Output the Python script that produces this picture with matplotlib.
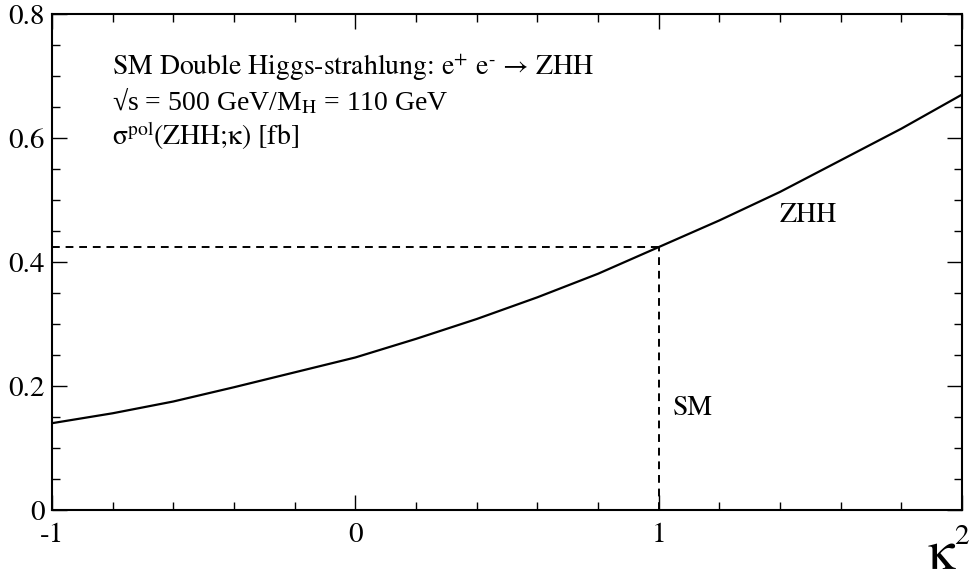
import matplotlib
matplotlib.use("Agg")
import matplotlib.pyplot as plt
from matplotlib.ticker import MultipleLocator

plt.rcParams['font.family'] = ['STIXGeneral', 'Liberation Serif', 'DejaVu Serif']
plt.rcParams['mathtext.fontset'] = 'stix'

kappa = [-1.0, -0.8, -0.6, -0.4, -0.2, 0.0, 0.2, 0.4, 0.6, 0.8, 1.0, 1.2, 1.4, 1.6, 1.8, 2.0]
sigma = [0.140, 0.156, 0.175, 0.198, 0.222, 0.246, 0.276, 0.308, 0.343, 0.381, 0.424, 0.467, 0.513, 0.564, 0.615, 0.670]
sm_kappa = 1.0
sm_sigma = 0.424
xticks = [-1, 0, 1, 2]
xtick_labels = ['-1', '0', '1', '']
yticks = [0, 0.2, 0.4, 0.6, 0.8]
ytick_labels = ['0', '0.2', '0.4', '0.6', '0.8']

fig = plt.figure(figsize=(9.72, 5.8), dpi=100)
ax = fig.add_axes([0.0535, 0.1207, 0.9362, 0.8552])

ax.plot(kappa, sigma, color='black', lw=1.6)
l1, = ax.plot([-1, sm_kappa], [sm_sigma, sm_sigma], color='black', lw=1.4)
l1.set_dashes([4, 3])
l2, = ax.plot([sm_kappa, sm_kappa], [0, sm_sigma], color='black', lw=1.4)
l2.set_dashes([4, 3])

ax.set_xlim(-1, 2)
ax.set_ylim(0, 0.8)
ax.set_xticks(xticks)
ax.set_xticklabels(xtick_labels)
ax.set_yticks(yticks)
ax.set_yticklabels(ytick_labels)
ax.xaxis.set_minor_locator(MultipleLocator(0.2))
ax.yaxis.set_minor_locator(MultipleLocator(0.05))
ax.tick_params(which='both', direction='in', top=True, right=True, width=1.0, labelsize=21)
ax.tick_params(which='major', length=11)
ax.tick_params(which='minor', length=6)
ax.tick_params(axis='x', pad=9)
ax.tick_params(axis='y', pad=5)
for s in ax.spines.values():
    s.set_linewidth(1.5)

fig.text(961/972, 1 - 537/580, '2', fontsize=21, ha='center', va='center')
fig.text(941/972, 1 - 556/580, 'κ', fontsize=40, ha='center', va='center')

fs = 20
x0 = 112/972
fig.text(x0, 1 - 75/580, r'SM Double Higgs-strahlung: e$^{+}$ e$^{\text{-}}$ → ZHH', fontsize=fs, va='baseline', ha='left')
fig.text(x0, 1 - 110/580, r'√s = 500 GeV/M$_{\mathrm{H}}$ = 110 GeV', fontsize=fs, va='baseline', ha='left',
         family=['Liberation Serif', 'DejaVu Serif'])
fig.text(x0, 1 - 145/580, r'σ$^{\mathrm{pol}}$(ZHH;κ) [fb]', fontsize=fs, va='baseline', ha='left')
fig.text(808/972, 1 - 215/580, 'ZHH', fontsize=fs, va='center', ha='center')
fig.text(693/972, 1 - 408/580, 'SM', fontsize=fs, va='center', ha='center')

fig.savefig('out.png', dpi=100)
